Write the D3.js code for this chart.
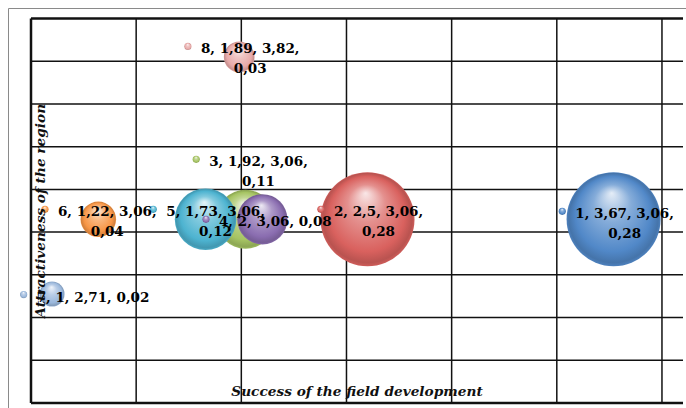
<!DOCTYPE html>
<html>
<head>
<meta charset="utf-8">
<script src="https://cdnjs.cloudflare.com/ajax/libs/d3/7.8.5/d3.min.js"></script>
<style>
  body { margin: 0; background: #fff; }
  .lbl { font-family: "DejaVu Serif", serif; font-weight: bold; font-size: 13.5px; fill: #000; }
  .axisLabel { font-family: "DejaVu Serif", serif; font-weight: bold; font-style: italic; font-size: 13.7px; fill: #111; }
</style>
</head>
<body>
<div id="chart"></div>
<script>
// bubble data: name, success (x), attractiveness (y), size
const names = ["1", "2", "3", "4", "5", "6", "7", "8"];
const success = [3.67, 2.5, 1.92, 2, 1.73, 1.22, 1, 1.89];
const attract = [3.06, 3.06, 3.06, 3.06, 3.06, 3.06, 2.71, 3.82];
const sizes = [0.28, 0.28, 0.11, 0.08, 0.12, 0.04, 0.02, 0.03];

const xTicks = [0.9, 1.4, 1.9, 2.4, 2.9, 3.4, 3.9];
const yTicks = [2.2, 2.4, 2.6, 2.8, 3.0, 3.2, 3.4, 3.6, 3.8, 4.0];

const colors = ["#5188c8", "#d9615e", "#a6c463", "#8a6db0", "#4db3d0", "#f79646", "#9bb8dc", "#e8aaa9"];

// label placement relative to bubble centre (text centre x, first baseline y), and wrapping
const labelPos = {
  "1": {dx: 11, dy: -1, wrap: true},
  "2": {dx: 11, dy: -3, wrap: true},
  "3": {dx: 13, dy: -53, wrap: true},
  "4": {dx: 13, dy: 7, wrap: false},
  "5": {dx: 10, dy: -3, wrap: true},
  "6": {dx: 9, dy: -3, wrap: true},
  "7": {dx: 41, dy: 7.5, wrap: false},
  "8": {dx: 11, dy: -3.5, wrap: true}
};

const width = 686, height = 408;
const margin = {top: 18.5, left: 31, right: 3, bottom: 5};

const data = names.map(function(n, i) {
  return {name: n, x: success[i], y: attract[i], s: sizes[i], color: colors[i]};
});

const fmt = function(v) { return String(v).replace(".", ","); };

const svg = d3.select("#chart").append("svg")
  .attr("width", width)
  .attr("height", height);

const xScale = d3.scaleLinear().domain([0.9, 4.0]).range([margin.left, width - margin.right]);
const yScale = d3.scaleLinear().domain([2.2, 4.0]).range([height - margin.bottom, margin.top]);
const rScale = d3.scaleSqrt().domain([0, 0.28]).range([0, 47]);

// gradients for the shiny bubbles
const defs = svg.append("defs");
data.forEach(function(d, i) {
  const c = d3.color(d.color);
  const g = defs.append("radialGradient")
    .attr("id", "g" + i)
    .attr("cx", "50%").attr("cy", "50%").attr("r", "50%")
    .attr("fx", "48%").attr("fy", "22%");
  g.append("stop").attr("offset", "0%").attr("stop-color", d3.interpolateRgb(d.color, "#fff")(0.85));
  g.append("stop").attr("offset", "40%").attr("stop-color", d3.interpolateRgb(d.color, "#fff")(0.3));
  g.append("stop").attr("offset", "80%").attr("stop-color", d.color);
  g.append("stop").attr("offset", "95%").attr("stop-color", c.darker(0.45));
  g.append("stop").attr("offset", "100%").attr("stop-color", c.darker(0.15));
});

// outer frame
svg.append("path")
  .attr("d", `M8.5,${height} V8.5 H${width}`)
  .attr("fill", "none")
  .attr("stroke", "#8a8a8a")
  .attr("stroke-width", 1);

// grid
svg.append("g")
  .selectAll("line")
  .data(yTicks)
  .join("line")
    .attr("x1", margin.left)
    .attr("x2", width - margin.right)
    .attr("y1", function(d) { return yScale(d); })
    .attr("y2", function(d) { return yScale(d); })
    .attr("stroke", "#111")
    .attr("stroke-width", function(d, i) { return (i == 0 || i == yTicks.length - 1) ? 2.5 : 1.5; });

svg.append("g")
  .selectAll("line")
  .data(xTicks)
  .join("line")
    .attr("x1", function(d) { return xScale(d); })
    .attr("x2", function(d) { return xScale(d); })
    .attr("y1", yScale(4.0))
    .attr("y2", yScale(2.2))
    .attr("stroke", "#111")
    .attr("stroke-width", function(d, i) { return i == 0 ? 2.5 : 1.5; });

// bubbles
svg.append("g")
  .selectAll("circle")
  .data(data)
  .join("circle")
    .attr("cx", function(d) { return xScale(d.x); })
    .attr("cy", function(d) { return yScale(d.y); })
    .attr("r", function(d) { return rScale(d.s); })
    .attr("fill", function(d, i) { return `url(#g${i})`; });

// data labels with legend keys
const labels = svg.append("g");
data.forEach(function(d, i) {
  const p = labelPos[d.name];
  const cx = xScale(d.x) + p.dx;
  const by = yScale(d.y) + p.dy;
  const parts = [d.name, fmt(d.x), fmt(d.y), fmt(d.s)];
  const lines = p.wrap ? [parts.slice(0, 3).join(", ") + ",", parts[3]] : [parts.join(", ")];

  const t = labels.append("text")
    .attr("class", "lbl")
    .attr("text-anchor", "middle");
  lines.forEach(function(l, k) {
    t.append("tspan")
      .attr("x", cx)
      .attr("y", by + k * 20)
      .text(l);
  });
  const w = t.select("tspan").node().getComputedTextLength();
  labels.insert("circle", "text")
    .attr("cx", cx - w / 2 - 13)
    .attr("cy", by - 7)
    .attr("r", 3.6)
    .attr("fill", `url(#g${i})`);
});

// axis titles
svg.append("text")
  .attr("class", "axisLabel")
  .attr("text-anchor", "middle")
  .attr("x", (margin.left + width - margin.right) / 2)
  .attr("y", 396)
  .text("Success of the field development");

svg.append("text")
  .attr("class", "axisLabel")
  .attr("text-anchor", "middle")
  .attr("transform", `translate(45,${(margin.top + height - margin.bottom) / 2}) rotate(-90)`)
  .text("Attractiveness of the region");
</script>
</body>
</html>
